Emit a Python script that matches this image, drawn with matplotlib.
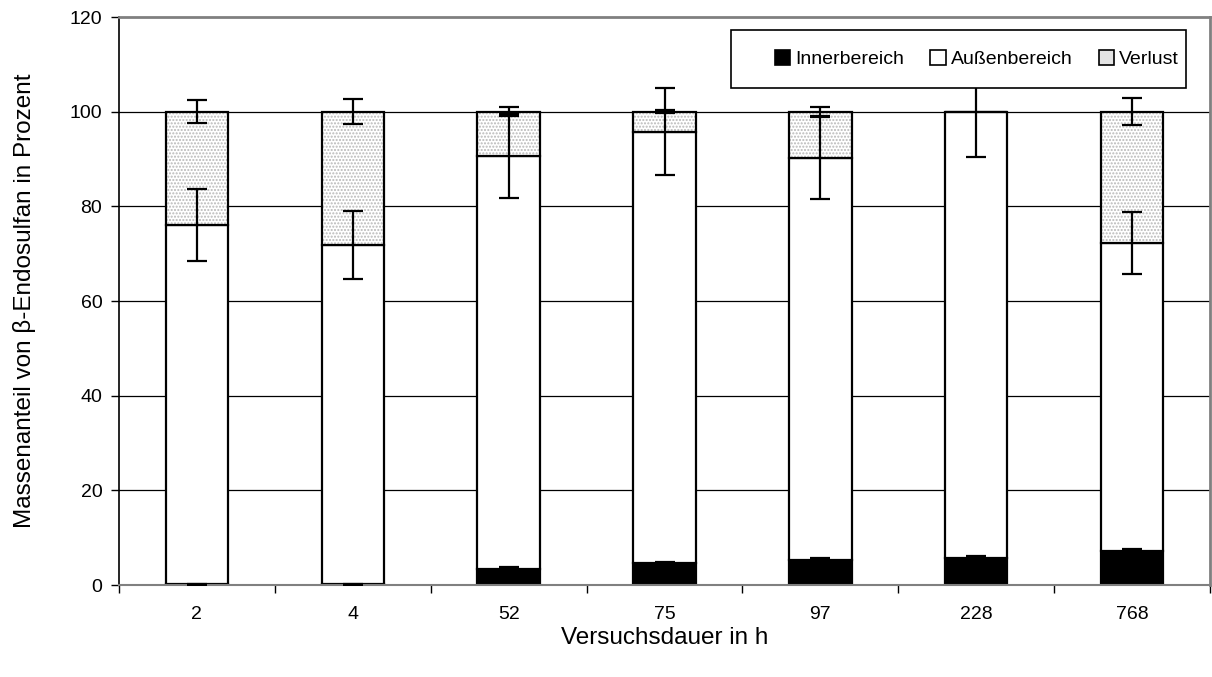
import matplotlib
matplotlib.use("Agg")
import matplotlib.pyplot as plt
from matplotlib.patches import Patch, Rectangle
import numpy as np

plt.rcParams['font.family'] = ['Liberation Sans', 'DejaVu Sans']
plt.rcParams['hatch.linewidth'] = 1.0

# data
dauer = ['2', '4', '52', '75', '97', '228', '768']
inner = [0.15, 0.15, 3.4, 4.6, 5.3, 5.7, 7.2]
inner_err = [0.1, 0.1, 0.3, 0.3, 0.4, 0.4, 0.5]
aussen_top = [76.0, 71.8, 90.7, 95.8, 90.2, 100.0, 72.2]
aussen_err = [7.6, 7.2, 8.9, 9.2, 8.6, 9.5, 6.5]
verlust_err = [2.4, 2.7, 0.9, 0.3, 1.0, 0.0, 2.8]

aussen = [t - i for t, i in zip(aussen_top, inner)]
verlust = [100 - t for t in aussen_top]

W, H = 1212, 677
L, R, T, B = 119, 1210, 17, 585
fig = plt.figure(figsize=(W / 100, H / 100), dpi=100)
ax = fig.add_axes([L / W, (H - B) / H, (R - L) / W, (B - T) / H])

x = np.arange(len(dauer))
w = 0.40

# gridlines first
for g in [20, 40, 60, 80, 100]:
    ax.axhline(g, color='black', lw=0.9, zorder=0)

ax.bar(x, inner, w, color='black', edgecolor='black', lw=1.6, zorder=2)
ax.bar(x, aussen, w, bottom=inner, color='white', edgecolor='black', lw=1.6, zorder=2)
# dotted Verlust: light hatch then black outline
ax.bar(x, verlust, w, bottom=aussen_top, color='white', edgecolor='#b8b8b8',
       hatch='.....', lw=0, zorder=2)
ax.bar(x, verlust, w, bottom=aussen_top, fill=False, edgecolor='black', lw=1.6, zorder=3)

ekw = dict(fmt='none', ecolor='black', elinewidth=1.6, capsize=7, capthick=1.6, zorder=4)
ax.errorbar(x, inner, yerr=inner_err, **ekw)
ax.errorbar(x, aussen_top, yerr=aussen_err, **ekw)
vx = [xi for xi, e in zip(x, verlust_err) if e > 0]
ve = [e for e in verlust_err if e > 0]
ax.errorbar(vx, [100] * len(vx), yerr=ve, **ekw)

ax.set_xlim(-0.5, len(dauer) - 0.5)
ax.set_ylim(0, 120)
ax.set_yticks(range(0, 121, 20))
ax.set_xticks(x)
ax.set_xticklabels(dauer, fontsize=14)
ax.set_xticks(np.arange(len(dauer) + 1) - 0.5, minor=True)
ax.tick_params(axis='x', which='major', length=0, pad=15)
ax.tick_params(axis='x', which='minor', length=6, width=1, direction='out')
ax.tick_params(axis='y', length=6, width=1, labelsize=14, pad=6)

for s in ['top', 'right']:
    ax.spines[s].set_color('#808080')
    ax.spines[s].set_linewidth(2)
ax.spines['left'].set_color('black')
ax.spines['left'].set_linewidth(1.2)
ax.spines['bottom'].set_color('#808080')
ax.spines['bottom'].set_linewidth(1.5)

ax.set_xlabel('Versuchsdauer in h', fontsize=17.5, labelpad=3)
ax.set_ylabel('Massenanteil von β-Endosulfan in Prozent', fontsize=17.5, labelpad=24)

# legend frame drawn by hand (wider left margin than matplotlib gives)
bx0, bx1, by0, by1 = 731, 1186, 30, 88
def ax_x(px):
    return (px - L) / (R - L)
def ax_y(py):
    return (B - py) / (B - T)
ax.add_patch(Rectangle((ax_x(bx0), ax_y(by1)), ax_x(bx1) - ax_x(bx0), ax_y(by0) - ax_y(by1),
                       transform=ax.transAxes, facecolor='white', edgecolor='black',
                       lw=1.2, zorder=5))

handles = [
    Patch(facecolor='black', edgecolor='black', lw=1.2),
    Patch(facecolor='white', edgecolor='black', lw=1.2),
    Patch(facecolor='#e4e4e4', edgecolor='black', lw=1.2),
]
leg = ax.legend(handles, ['Innerbereich', 'Außenbereich', 'Verlust'], ncol=3,
                loc='center right', bbox_to_anchor=(ax_x(1179), ax_y((by0 + by1) / 2)),
                fontsize=14, frameon=False,
                handlelength=0.8, handleheight=0.8, handletextpad=0.25, columnspacing=1.35,
                borderpad=0, borderaxespad=0)
leg.set_zorder(6)

fig.savefig('out.png', dpi=100, facecolor='white')
